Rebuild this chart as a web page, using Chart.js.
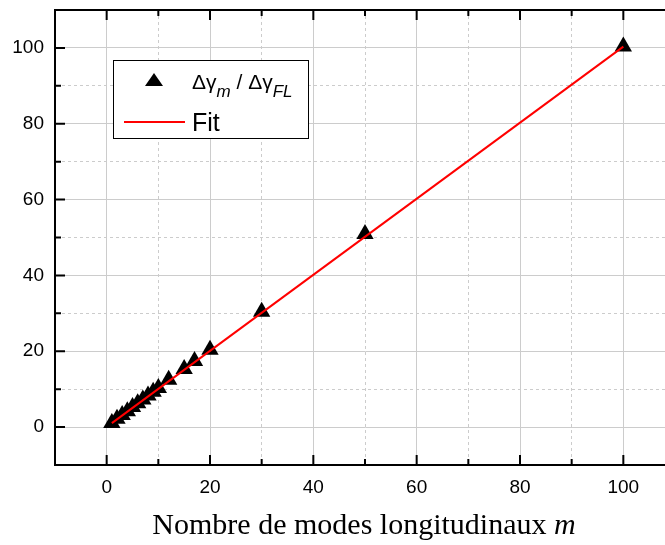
<!DOCTYPE html>
<html>
<head>
<meta charset="utf-8">
<script src="https://cdn.jsdelivr.net/npm/chart.js@4.4.1/dist/chart.umd.min.js"></script>
<style>
html,body{margin:0;padding:0;background:#fff;overflow:hidden;}
#wrap{width:690px;height:545px;}
</style>
</head>
<body>
<div id="wrap"><canvas id="c" width="690" height="545"></canvas></div>
<script>
// ---- data ----
const modesM = [1, 2, 3, 4, 5, 6, 7, 8, 9, 10, 12, 15, 17, 20, 30, 50, 100];
const ratioValues = [1.1, 2.2, 3.2, 4.2, 5.3, 6.3, 7.3, 8.3, 9.3, 10.3, 12.5, 15.3, 17.4, 20.4, 30.4, 50.9, 100.4];
const fitX = [1, 100];
const fitY = [1.05, 100.35];
const axisMin = -10, axisMax = 110, minorStep = 10, majorStep = 20;
const xTitleMain = 'Nombre de modes longitudinaux ';
const xTitleVar = 'm';
const legendFitLabel = 'Fit';

const pointData = modesM.map((m, i) => ({x: m, y: ratioValues[i]}));
const fitData = fitX.map((x, i) => ({x: x, y: fitY[i]}));

Chart.defaults.font.family = "'Liberation Sans', Arial, sans-serif";
Chart.defaults.color = '#000';

const isMajor = v => Math.abs(v % majorStep) < 1e-9;

const frameTicks = {
  id: 'frameTicks',
  afterDatasetsDraw(chart) {
    const ctx = chart.ctx, a = chart.chartArea;
    const xs = chart.scales.x, ys = chart.scales.y;
    ctx.save();
    ctx.strokeStyle = '#000';
    ctx.lineWidth = 2;
    ctx.beginPath();
    ctx.moveTo(a.left, a.top); ctx.lineTo(a.right, a.top);
    ctx.moveTo(a.right, a.top); ctx.lineTo(a.right, a.bottom);
    ctx.stroke();
    for (let v = axisMin; v <= axisMax + 1e-9; v += minorStep) {
      const len = isMajor(v) ? 10 : 6;
      const px = xs.getPixelForValue(v);
      const py = ys.getPixelForValue(v);
      ctx.beginPath();
      ctx.moveTo(px, a.bottom); ctx.lineTo(px, a.bottom - len);
      ctx.moveTo(px, a.top); ctx.lineTo(px, a.top + len);
      ctx.moveTo(a.left, py); ctx.lineTo(a.left + len, py);
      ctx.moveTo(a.right, py); ctx.lineTo(a.right - len, py);
      ctx.stroke();
    }
    ctx.restore();
  },
  afterDraw(chart) {
    const ctx = chart.ctx, a = chart.chartArea;
    ctx.save();
    // x title
    const serif = "'Liberation Serif', 'Times New Roman', serif";
    ctx.fillStyle = '#000';
    ctx.textBaseline = 'alphabetic';
    ctx.font = '30px ' + serif;
    const w1 = ctx.measureText(xTitleMain).width;
    ctx.font = 'italic 30px ' + serif;
    const w2 = ctx.measureText(xTitleVar).width;
    const cx = (a.left + a.right) / 2 - 1;
    let tx = cx - (w1 + w2) / 2;
    ctx.font = '30px ' + serif;
    ctx.textAlign = 'left';
    ctx.fillText(xTitleMain, tx, 534);
    ctx.font = 'italic 30px ' + serif;
    ctx.fillText(xTitleVar, tx + w1, 534);

    // legend
    const bx = a.left + 58, by = a.top + 50, bw = 195, bh = 78;
    ctx.fillStyle = '#fff';
    ctx.fillRect(bx, by, bw, bh);
    ctx.strokeStyle = '#000';
    ctx.lineWidth = 1;
    ctx.strokeRect(bx + 0.5, by + 0.5, bw, bh);
    // triangle symbol
    const tcx = bx + 41, tcy = by + 20;
    ctx.fillStyle = '#000';
    ctx.beginPath();
    ctx.moveTo(tcx, tcy - 7);
    ctx.lineTo(tcx + 9, tcy + 6);
    ctx.lineTo(tcx - 9, tcy + 6);
    ctx.closePath();
    ctx.fill();
    // label with subscripts
    const sans = "'Liberation Sans', Arial, sans-serif";
    let lx = bx + 79;
    const base = by + 29, subBase = base + 8;
    const seg = [
      ['Δγ', '21px ' + sans, base],
      ['m', 'italic 17px ' + sans, subBase],
      [' / ', '21px ' + sans, base],
      ['Δγ', '21px ' + sans, base],
      ['FL', 'italic 17px ' + sans, subBase]
    ];
    for (const [t, f, b] of seg) {
      ctx.font = f;
      ctx.fillText(t, lx, b);
      lx += ctx.measureText(t).width;
    }
    // fit line symbol
    ctx.strokeStyle = '#ff0000';
    ctx.lineWidth = 2;
    ctx.beginPath();
    ctx.moveTo(bx + 11, by + 62);
    ctx.lineTo(bx + 72, by + 62);
    ctx.stroke();
    ctx.fillStyle = '#000';
    ctx.font = '25px ' + sans;
    ctx.fillText(legendFitLabel, bx + 79, by + 71);
    ctx.restore();
  }
};

const gridOpts = {
  color: '#cccccc',
  lineWidth: 1,
  drawTicks: false
};
const borderOpts = {
  display: true,
  color: '#000',
  width: 2,
  dash: ctx => (ctx.tick && !isMajor(ctx.tick.value)) ? [3, 3] : []
};

new Chart(document.getElementById('c'), {
  type: 'scatter',
  data: {
    datasets: [
      {
        label: 'Fit',
        data: fitData,
        showLine: true,
        borderColor: '#ff0000',
        borderWidth: 2,
        pointRadius: 0,
        fill: false,
        order: 0
      },
      {
        label: 'ratio',
        data: pointData,
        pointStyle: 'triangle',
        pointRadius: 10,
        backgroundColor: '#000',
        borderColor: '#000',
        borderWidth: 0,
        order: 1
      }
    ]
  },
  options: {
    responsive: false,
    animation: false,
    layout: {padding: {top: 10, right: 15, left: 0, bottom: 0}},
    plugins: {legend: {display: false}, tooltip: {enabled: false}},
    scales: {
      x: {
        type: 'linear',
        min: axisMin, max: axisMax,
        grid: gridOpts,
        border: borderOpts,
        afterFit: s => { s.height = 80; s.paddingLeft = 0; s.paddingRight = 0; },
        ticks: {
          stepSize: minorStep,
          autoSkip: false,
          maxRotation: 0,
          padding: 11,
          font: {size: 19},
          callback: v => isMajor(v) && v >= 0 && v <= 100 ? String(v) : ''
        }
      },
      y: {
        type: 'linear',
        min: axisMin, max: axisMax,
        grid: gridOpts,
        border: borderOpts,
        afterFit: s => { s.width = 55; s.paddingTop = 0; s.paddingBottom = 0; },
        ticks: {
          stepSize: minorStep,
          autoSkip: false,
          padding: 11,
          font: {size: 19},
          callback: v => isMajor(v) && v >= 0 && v <= 100 ? String(v) : ''
        }
      }
    }
  },
  plugins: [frameTicks]
});
</script>
</body>
</html>
